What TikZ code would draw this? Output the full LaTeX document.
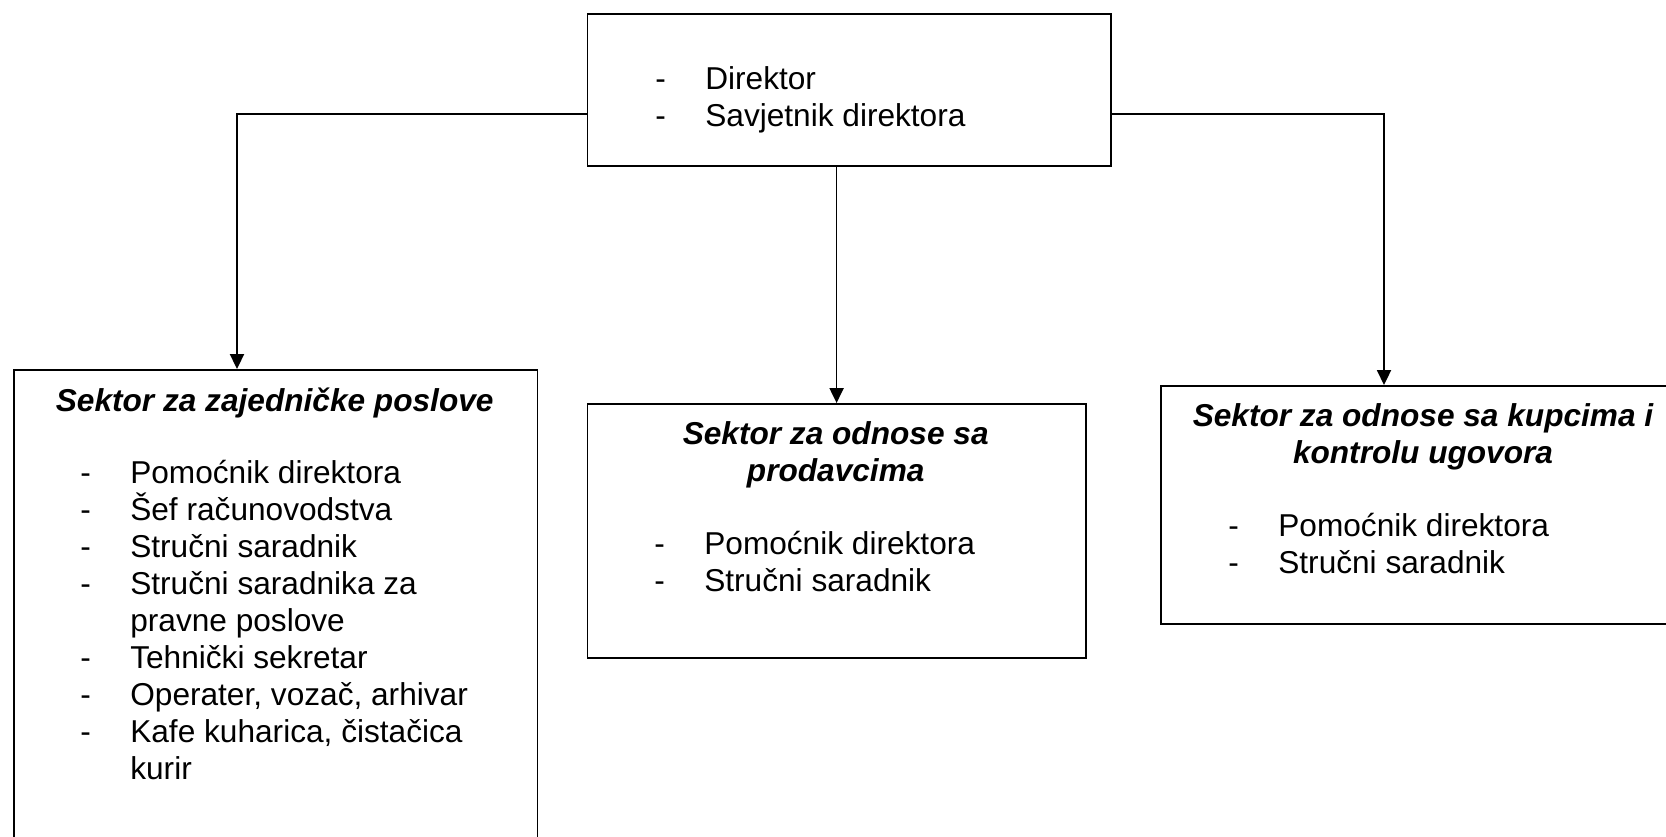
\documentclass[tikz,border=0pt]{standalone}
\usepackage{fontspec}
\setmainfont{Liberation Sans}
\usetikzlibrary{arrows.meta}

\newcommand{\crt}{\makebox[1cm][l]{-}}
\newcommand{\bez}{\hspace*{1cm}}

\begin{document}
\begin{tikzpicture}[
	x=0.02cm, y=-0.02cm,
	kutija/.style={rectangle, draw=black, line width=1pt, inner sep=0pt, anchor=north west},
	popis/.style={align=left, inner sep=0pt, anchor=base west, font=\fontsize{18}{21}\selectfont},
	naslov/.style={align=center, inner sep=0pt, anchor=base, font=\fontsize{18}{21}\selectfont\bfseries\itshape},
	veza/.style={->, >={Triangle[length=8.5pt,width=8pt]}, line width=1pt}
	]
	\useasboundingbox (0,0) rectangle (1666,836);
	\clip (0,0) rectangle (1666,836);

	% kutije
	\node[kutija, minimum width=10.47cm, minimum height=3.04cm] (vrh) at (586.5,13) {};
	\node[kutija, minimum width=10.48cm, minimum height=10cm] (lijevi) at (12.75,369) {};
	\node[kutija, minimum width=9.97cm, minimum height=5.08cm] (srednji) at (586.5,403) {};
	\node[kutija, minimum width=10.52cm, minimum height=4.76cm] (desni) at (1160,385) {};

	% tekst (base = zadnji red)
	\node[popis] (vrhtekst) at (655,126.6) {\crt Direktor\\ \crt Savjetnik direktora};

	\node[naslov] (lijevinaslov) at (274.7,411) {Sektor za zajedničke poslove};
	\node[popis] (lijevitekst) at (80,779) {\crt Pomoćnik direktora\\
		\crt Šef računovodstva\\
		\crt Stručni saradnik\\
		\crt Stručni saradnika za\\
		\bez pravne poslove\\
		\crt Tehnički sekretar\\
		\crt Operater, vozač, arhivar\\
		\crt Kafe kuharica, čistačica\\
		\bez kurir};

	\node[naslov] (srednjinaslov) at (835.7,481) {Sektor za odnose sa\\ prodavcima};
	\node[popis] (srednjitekst) at (654,591) {\crt Pomoćnik direktora\\ \crt Stručni saradnik};

	\node[naslov] (desninaslov) at (1423,463) {Sektor za odnose sa kupcima i\\ kontrolu ugovora};
	\node[popis] (desnitekst) at (1228,573) {\crt Pomoćnik direktora\\ \crt Stručni saradnik};

	% veze
	\coordinate (lijevo) at (237,114);
	\coordinate (desno) at (1384,114);
	\draw[veza] (vrh.west |- lijevo) -- (lijevo) -- (lijevo |- lijevi.north);
	\draw[veza] (srednji.north |- vrh.south) -- (srednji.north);
	\draw[veza] (vrh.east |- desno) -- (desno) -- (desno |- desni.north);
\end{tikzpicture}
\end{document}
